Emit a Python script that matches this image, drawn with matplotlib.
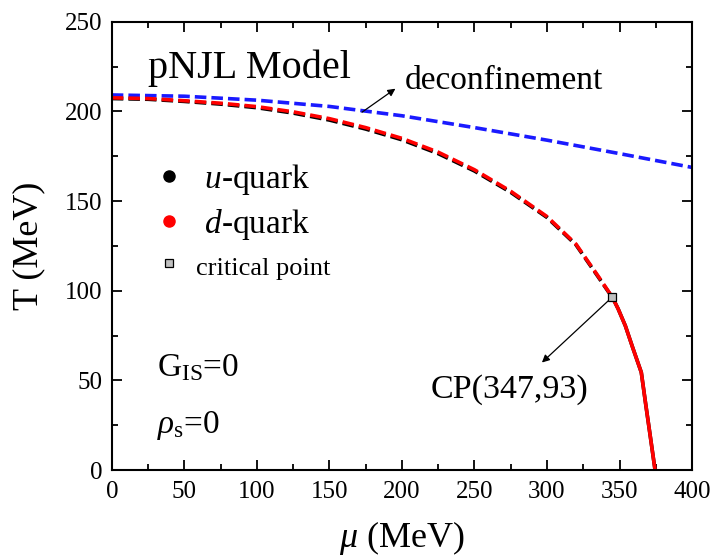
import numpy as np
import matplotlib.pyplot as plt
from matplotlib.lines import Line2D
from matplotlib.ticker import MultipleLocator

plt.rcParams['font.family'] = ['Liberation Serif', 'DejaVu Serif']
plt.rcParams['mathtext.fontset'] = 'custom'
plt.rcParams['mathtext.rm'] = 'Liberation Serif'
plt.rcParams['mathtext.it'] = 'Liberation Serif:italic'

# deconfinement line
mu_deconf = [0, 50, 100, 150, 200, 250, 300, 350, 400]
T_deconf = [209.2, 208.5, 206.3, 202.8, 197.6, 191.0, 184.0, 176.5, 168.8]

# chiral crossover (dashed) for u and d quarks
mu_cross = [0, 25, 50, 75, 100, 125, 150, 175, 200, 225, 250, 275, 300, 320, 335, 345]
T_cross_d = [207.6, 207.2, 206.0, 204.6, 202.7, 199.8, 196.0, 191.0, 185.0, 177.3,
             167.5, 155.5, 141.4, 126.0, 108.5, 96.5]
T_cross_u = [207.2, 206.8, 205.6, 204.1, 202.1, 199.1, 195.2, 190.2, 184.2, 176.5,
             166.8, 154.9, 140.9, 125.6, 108.1, 96.3]

# first order line (solid)
mu_first = [345, 349, 354, 359, 365, 368, 371, 374.5]
T_first = [96.5, 90.0, 80.5, 68.5, 54.5, 37.0, 20.0, 0.0]

cp_mu = [345]
cp_T = [96.5]

fig = plt.figure(figsize=(7.12, 5.59), dpi=100)
ax = fig.add_axes([0.157, 0.159, 0.815, 0.802])

dash = (3.2, 1.4)
ax.plot(mu_deconf, T_deconf, color='#1a1aff', lw=2.6, linestyle=(0, dash))
ax.plot(mu_cross, T_cross_u, color='k', lw=2.6, linestyle=(0, dash))
ax.plot(mu_cross, T_cross_d, color='#ff0000', lw=2.6, linestyle=(0, dash))
ax.plot(mu_first, T_first, color='k', lw=2.6)
ax.plot(mu_first, T_first, color='#ff0000', lw=2.6)
ax.plot(cp_mu, cp_T, 's', ms=6, mfc='#c0c0c0', mec='k', mew=0.9, zorder=5)

ax.set_xlim(0, 400)
ax.set_ylim(0, 250)
ax.xaxis.set_major_locator(MultipleLocator(50))
ax.xaxis.set_minor_locator(MultipleLocator(25))
ax.yaxis.set_major_locator(MultipleLocator(50))
ax.yaxis.set_minor_locator(MultipleLocator(25))
ax.tick_params(which='both', direction='in', top=True, right=True, width=1.3, labelsize=18)
ax.tick_params(which='major', length=7)
ax.tick_params(which='minor', length=4)
ax.tick_params(axis='x', pad=8)
ax.tick_params(axis='y', pad=7)
for s in ax.spines.values():
    s.set_linewidth(1.5)

ax.set_xlabel(r'$\mu$ (MeV)', fontsize=26, labelpad=11)
ax.set_ylabel('T (MeV)', fontsize=26, labelpad=14)

ax.text(25, 224, 'pNJL Model', fontsize=29, va='center')
ax.text(202, 217, 'deconfinement', fontsize=24, va='center', ha='left')
ax.annotate('', xy=(195.5, 212.7), xytext=(172.5, 199.6),
            arrowprops=dict(arrowstyle='-|>', color='k', lw=0.9, mutation_scale=11,
                            shrinkA=0, shrinkB=0))
ax.annotate('', xy=(296.5, 60), xytext=(345, 96.5),
            arrowprops=dict(arrowstyle='-|>', color='k', lw=0.9, mutation_scale=11,
                            shrinkA=0, shrinkB=0))
ax.text(219.6, 45, 'CP(347,93)', fontsize=24.5, va='center')
ax.text(31, 57, r'G$_{\mathrm{IS}}$=0', fontsize=24, va='center')
ax.text(31, 25, r'$\rho_{\mathrm{s}}$=0', fontsize=24, va='center')

handles = [Line2D([], [], ls='none', marker='o', ms=8, color='k'),
           Line2D([], [], ls='none', marker='o', ms=8, color='#ff0000'),
           Line2D([], [], ls='none', marker='s', ms=6, mfc='#c0c0c0', mec='k', mew=0.9)]
labels = [r' $u$-quark', r' $d$-quark', 'critical point']
leg = ax.legend(handles, labels, loc='upper left', bbox_to_anchor=(0.03, 0.74),
                frameon=False, fontsize=24, handletextpad=0.3, labelspacing=0.3,
                borderpad=0.2, handlelength=1.0)
leg.get_texts()[2].set_fontsize(19)

fig.savefig('out.png', dpi=100)
